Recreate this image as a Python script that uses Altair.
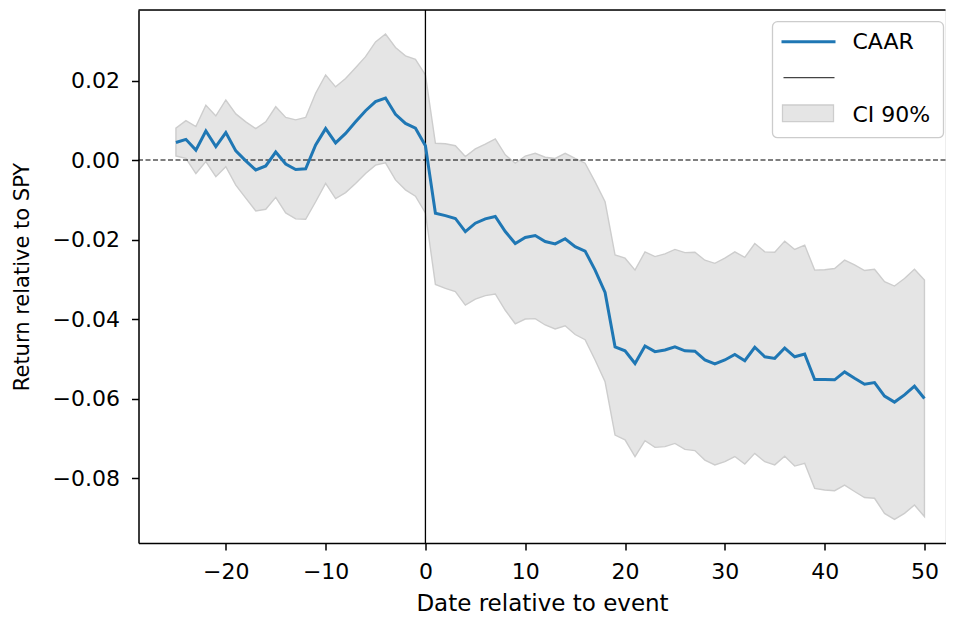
import altair as alt
import pandas as pd

# ---- data ----
days = list(range(-25, 51))
caar = [0.0044, 0.0052, 0.0025, 0.0073, 0.0034, 0.0069, 0.0023, -0.0002, -0.0025, -0.0015,
        0.0020, -0.0010, -0.0024, -0.0022, 0.0038, 0.0079, 0.0043, 0.0067, 0.0096, 0.0124,
        0.0147, 0.0156, 0.0115, 0.0092, 0.0080, 0.0036, -0.0134, -0.0140, -0.0147, -0.0180,
        -0.0159, -0.0148, -0.0142, -0.0180, -0.0210, -0.0195, -0.0190, -0.0205, -0.0211, -0.0198,
        -0.0218, -0.0229, -0.0277, -0.0333, -0.0470, -0.0480, -0.0512, -0.0468, -0.0482, -0.0478,
        -0.0470, -0.0480, -0.0481, -0.0503, -0.0513, -0.0503, -0.0489, -0.0505, -0.0471, -0.0495,
        -0.0499, -0.0473, -0.0495, -0.0488, -0.0552, -0.0552, -0.0553, -0.0533, -0.0549, -0.0564,
        -0.0560, -0.0594, -0.0609, -0.0591, -0.0569, -0.0600]
ci_upper = [0.0080, 0.0099, 0.0084, 0.0138, 0.0111, 0.0151, 0.0116, 0.0096, 0.0079, 0.0096,
            0.0134, 0.0107, 0.0101, 0.0107, 0.0168, 0.0214, 0.0184, 0.0205, 0.0232, 0.0260,
            0.0297, 0.0317, 0.0283, 0.0262, 0.0253, 0.0214, 0.0042, 0.0041, 0.0036, 0.0009,
            0.0028, 0.0040, 0.0053, 0.0013, -0.0008, 0.0010, 0.0017, 0.0007, 0.0004, 0.0017,
            0.0004, -0.0008, -0.0055, -0.0105, -0.0239, -0.0247, -0.0277, -0.0231, -0.0243, -0.0236,
            -0.0225, -0.0233, -0.0232, -0.0252, -0.0260, -0.0247, -0.0231, -0.0245, -0.0210, -0.0231,
            -0.0232, -0.0204, -0.0225, -0.0214, -0.0277, -0.0276, -0.0273, -0.0252, -0.0264, -0.0278,
            -0.0275, -0.0306, -0.0317, -0.0298, -0.0275, -0.0302]
ci_lower = [0.0010, 0.0004, -0.0034, -0.0004, -0.0042, -0.0017, -0.0063, -0.0096, -0.0128, -0.0124,
            -0.0094, -0.0133, -0.0148, -0.0149, -0.0105, -0.0059, -0.0097, -0.0082, -0.0059, -0.0034,
            -0.0013, -0.0007, -0.0050, -0.0075, -0.0091, -0.0133, -0.0313, -0.0323, -0.0331, -0.0365,
            -0.0350, -0.0341, -0.0337, -0.0378, -0.0412, -0.0400, -0.0399, -0.0415, -0.0425, -0.0417,
            -0.0439, -0.0452, -0.0503, -0.0558, -0.0692, -0.0704, -0.0746, -0.0706, -0.0723, -0.0721,
            -0.0713, -0.0728, -0.0731, -0.0755, -0.0767, -0.0759, -0.0746, -0.0765, -0.0738, -0.0759,
            -0.0767, -0.0745, -0.0770, -0.0763, -0.0826, -0.0830, -0.0832, -0.0818, -0.0834, -0.0849,
            -0.0851, -0.0889, -0.0904, -0.0889, -0.0868, -0.0897]
x_ticks = [-20, -10, 0, 10, 20, 30, 40, 50]
y_ticks = [-0.08, -0.06, -0.04, -0.02, 0.00, 0.02]
legend_labels = ["CAAR", "", "CI 90%"]

df = pd.DataFrame({"day": days, "caar": caar, "lo": ci_lower, "hi": ci_upper})

W, H = 807, 533
FONT = "DejaVu Sans"
FS = 22

xscale = alt.Scale(domain=[-28.75, 52.11], nice=False, zero=False)
yscale = alt.Scale(domain=[-0.09635, 0.03774], nice=False, zero=False)

xaxis = alt.Axis(values=x_ticks, format="d", title="Date relative to event", grid=False,
                 tickSize=7, tickWidth=1.5, tickColor="black", domainColor="black", domainWidth=1.5,
                 labelFont=FONT, labelFontSize=FS, labelColor="black", labelPadding=11,
                 titleFont=FONT, titleFontSize=23, titleColor="black", titleFontWeight="normal",
                 titlePadding=10, labelFlush=False)
yaxis = alt.Axis(values=y_ticks, format=".2f", title="Return relative to SPY", grid=False,
                 tickSize=7, tickWidth=1.5, tickColor="black", domainColor="black", domainWidth=1.5,
                 labelFont=FONT, labelFontSize=FS, labelColor="black", labelPadding=12,
                 titleFont=FONT, titleFontSize=21, titleColor="black", titleFontWeight="normal",
                 titlePadding=20, labelFlush=False)

base = alt.Chart(df)

band = base.mark_area(color="#e5e5e5", stroke="#cdcdcd", strokeWidth=1.4, opacity=1).encode(
    x=alt.X("day:Q", scale=xscale, axis=xaxis),
    y=alt.Y("lo:Q", scale=yscale, axis=yaxis),
    y2="hi:Q",
)

zero_h = alt.Chart(pd.DataFrame({"v": [0.0]})).mark_rule(
    color="black", strokeWidth=1.1, strokeDash=[5, 2.5]).encode(y=alt.Y("v:Q", scale=yscale))

zero_v = alt.Chart(pd.DataFrame({"d": [0]})).mark_rule(
    color="black", strokeWidth=1.3).encode(x=alt.X("d:Q", scale=xscale))

line = base.mark_line(color="#1f77b4", strokeWidth=3).encode(
    x=alt.X("day:Q", scale=xscale),
    y=alt.Y("caar:Q", scale=yscale),
)

top_spine = alt.Chart(pd.DataFrame({"a": [0]})).mark_rule(color="black", strokeWidth=1.5).encode(
    x=alt.value(0), x2=alt.value(W), y=alt.value(0))

# ---- legend (drawn manually, top-right) ----
one = pd.DataFrame({"a": [0]})
leg_box = alt.Chart(one).mark_rect(fill="white", fillOpacity=0.8, stroke="#cccccc",
                                   strokeWidth=1.3, cornerRadius=5).encode(
    x=alt.value(634), x2=alt.value(805), y=alt.value(11.7), y2=alt.value(127.7))
leg_l1 = alt.Chart(one).mark_rule(color="#1f77b4", strokeWidth=3).encode(
    x=alt.value(643), x2=alt.value(697), y=alt.value(31.7))
leg_l2 = alt.Chart(one).mark_rule(color="#444444", strokeWidth=1.3).encode(
    x=alt.value(645), x2=alt.value(696), y=alt.value(67.7))
leg_r = alt.Chart(one).mark_rect(fill="#e5e5e5", stroke="#cdcdcd", strokeWidth=1.3).encode(
    x=alt.value(644), x2=alt.value(695), y=alt.value(95), y2=alt.value(111.7))
leg_t1 = alt.Chart(one).mark_text(align="left", baseline="middle", font=FONT, fontSize=FS,
                                  color="black").encode(
    x=alt.value(714), y=alt.value(32), text=alt.value(legend_labels[0]))
leg_t3 = alt.Chart(one).mark_text(align="left", baseline="middle", font=FONT, fontSize=FS,
                                  color="black").encode(
    x=alt.value(714), y=alt.value(105), text=alt.value(legend_labels[2]))

chart = alt.layer(band, zero_h, zero_v, line, top_spine,
                  leg_box, leg_l1, leg_l2, leg_r, leg_t1, leg_t3).properties(
    width=W, height=H,
    autosize=alt.AutoSizeParams(type="none"),
    padding={"left": 130.5, "top": 2, "right": 0, "bottom": 76},
).configure_view(stroke=None).configure(background="white")

chart.save("out.html", embed_options={"renderer": "svg", "actions": False})
